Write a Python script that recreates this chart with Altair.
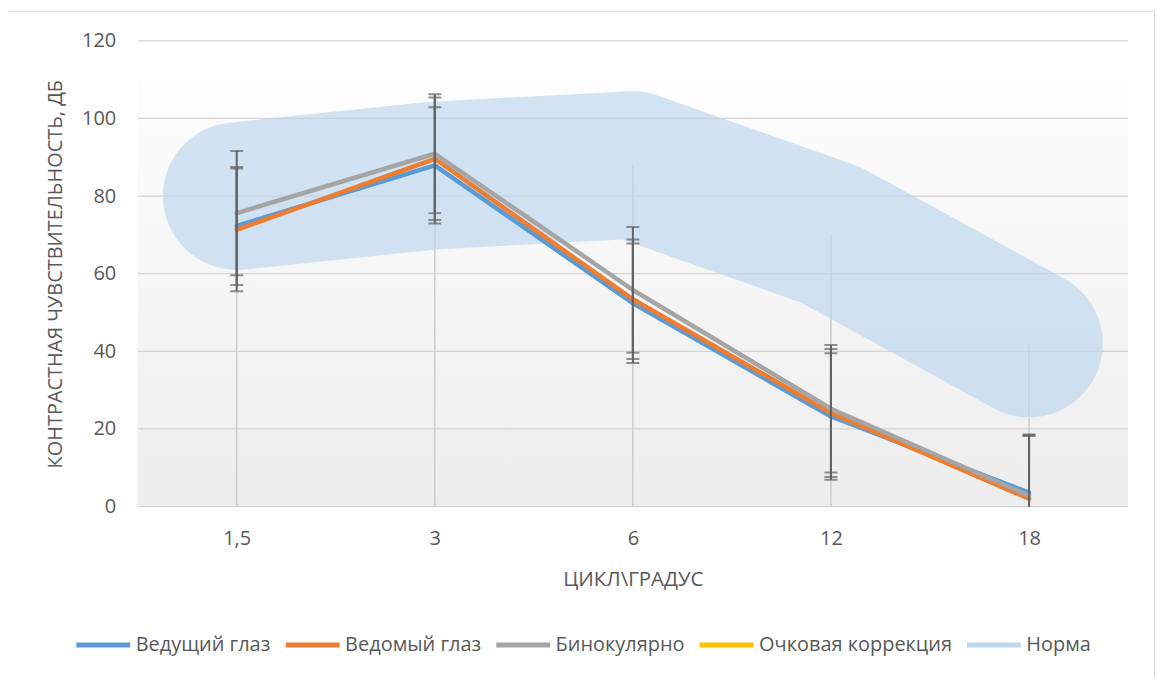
import altair as alt
import pandas as pd

# ---- data ----
categories = ["1,5", "3", "6", "12", "18"]
series_names = ["Ведущий глаз", "Ведомый глаз", "Бинокулярно", "Очковая коррекция", "Норма"]
series_colors = ["#5B9BD5", "#ED7D31", "#A5A5A5", "#FFC000", "#BDD7EE"]

vedushchiy = [72.3, 87.9, 52.4, 23.2, 3.6]
vedomyy = [71.3, 89.6, 53.4, 24.1, 2.0]
binokulyarno = [75.6, 90.9, 55.8, 25.2, 2.8]
norma = [80.0, 85.3, 88.0, 70.0, 42.0]

err_vedushchiy = [15.2, 15.0, 15.4, 16.3, 15.0]
err_vedomyy = [15.8, 15.8, 15.4, 16.5, 16.2]
err_binokulyarno = [16.0, 15.3, 16.2, 16.4, 15.6]

y_ticks = [0, 20, 40, 60, 80, 100, 120]

# ---- tables ----
rows, err_rows = [], []
for name, vals, errs in [
    (series_names[0], vedushchiy, err_vedushchiy),
    (series_names[1], vedomyy, err_vedomyy),
    (series_names[2], binokulyarno, err_binokulyarno),
]:
    for i, (c, v, e) in enumerate(zip(categories, vals, errs)):
        rows.append({"cat": c, "value": v, "series": name, "ord": i})
        err_rows.append({"cat": c, "lo": v - e, "hi": v + e, "series": name})
lines_df = pd.DataFrame(rows)
err_df = pd.DataFrame(err_rows)
norma_df = pd.DataFrame({"cat": categories, "value": norma, "series": "Норма", "ord": range(5)})
drop_df = pd.DataFrame({
    "cat": categories,
    "top": [max(a, b, c, d) for a, b, c, d in zip(vedushchiy, vedomyy, binokulyarno, norma)],
    "zero": 0,
})
grid_df = pd.DataFrame({"v": y_ticks})
one_df = pd.DataFrame({"a": [0]})

W, H = 993, 467
TXT = "#595959"

xscale = alt.Scale(domain=categories, type="point", padding=0.5)
yscale = alt.Scale(domain=[0, 120], nice=False)
xaxis = alt.Axis(title="ЦИКЛ\\ГРАДУС", labelAngle=0, ticks=False, grid=False,
                 domain=False, labelPadding=22, labelFontSize=20, labelColor=TXT,
                 titleFontSize=20.5, titleColor=TXT, titleFontWeight="normal", titlePadding=21)
yaxis = alt.Axis(title="КОНТРАСТНАЯ ЧУВСТВИТЕЛЬНОСТЬ, ДБ", values=y_ticks, ticks=False,
                 grid=False, domain=False, labelPadding=22, labelFontSize=20, labelColor=TXT,
                 titleFontSize=20, titleColor=TXT, titleFontWeight="normal", titlePadding=16)

color = alt.Color(
    "series:N",
    scale=alt.Scale(domain=series_names, range=series_colors),
    legend=alt.Legend(
        title=None, orient="none", direction="horizontal", legendX=-64, legendY=576,
        symbolType="stroke", symbolSize=2916, symbolStrokeWidth=5, symbolOpacity=1,
        labelFontSize=20, labelColor=TXT, labelOffset=3, columnPadding=4, padding=0,
        labelLimit=400,
    ),
)

frame = alt.Chart(one_df).mark_rect(fillOpacity=0, stroke="#d9d9d9", strokeWidth=1).encode(
    x=alt.value(-130.5), x2=alt.value(1019.5), y=alt.value(-29.5), y2=alt.value(700)
)

bg = alt.Chart(one_df).mark_rect(
    color=alt.Gradient(
        gradient="linear",
        stops=[alt.GradientStop(color="#ffffff", offset=0),
               alt.GradientStop(color="#ededed", offset=1)],
        x1=0, x2=0, y1=0, y2=1,
    )
).encode(x=alt.value(0), x2=alt.value(W), y=alt.value(0), y2=alt.value(H))

grid = alt.Chart(grid_df).mark_rule(color="#d4d4d4", strokeWidth=1.3).encode(
    y=alt.Y("v:Q", scale=yscale, axis=yaxis)
)

drops = alt.Chart(drop_df).mark_rule(color="#cccccc", strokeWidth=1.5).encode(
    x=alt.X("cat:N", scale=xscale, axis=xaxis, sort=categories),
    y=alt.Y("top:Q", scale=yscale, axis=yaxis),
    y2="zero:Q",
)

band = alt.Chart(norma_df).mark_line(
    strokeWidth=148, strokeCap="round", strokeJoin="round", opacity=0.68
).encode(
    x=alt.X("cat:N", scale=xscale, axis=xaxis, sort=categories),
    y=alt.Y("value:Q", scale=yscale, axis=yaxis),
    color=color,
    order="ord:Q",
)

lines = alt.Chart(lines_df).mark_line(strokeWidth=4.5, strokeJoin="round", strokeCap="round").encode(
    x=alt.X("cat:N", scale=xscale, axis=xaxis, sort=categories),
    y=alt.Y("value:Q", scale=yscale, axis=yaxis),
    color=color,
    order="ord:Q",
)

err_rule = alt.Chart(err_df).mark_rule(color="#636363", strokeWidth=2, clip=True).encode(
    x=alt.X("cat:N", scale=xscale, axis=xaxis, sort=categories),
    y=alt.Y("lo:Q", scale=yscale, axis=yaxis),
    y2="hi:Q",
)
cap_hi = alt.Chart(err_df).mark_tick(color="#636363", thickness=2, size=13, clip=True).encode(
    x=alt.X("cat:N", scale=xscale, axis=xaxis, sort=categories),
    y=alt.Y("hi:Q", scale=yscale, axis=yaxis),
)
cap_lo = alt.Chart(err_df).mark_tick(color="#636363", thickness=2, size=13, clip=True).encode(
    x=alt.X("cat:N", scale=xscale, axis=xaxis, sort=categories),
    y=alt.Y("lo:Q", scale=yscale, axis=yaxis),
)

chart = alt.layer(
    frame, bg, grid, drops, band, lines, err_rule, cap_hi, cap_lo
).properties(
    width=W, height=H,
    autosize=alt.AutoSizeParams(type="none"),
    padding={"left": 130, "top": 32, "right": 30, "bottom": 170},
).configure(
    font="Open Sans", background="white"
).configure_view(stroke=None)

chart.save("out.html", embed_options={"renderer": "svg", "actions": False})
